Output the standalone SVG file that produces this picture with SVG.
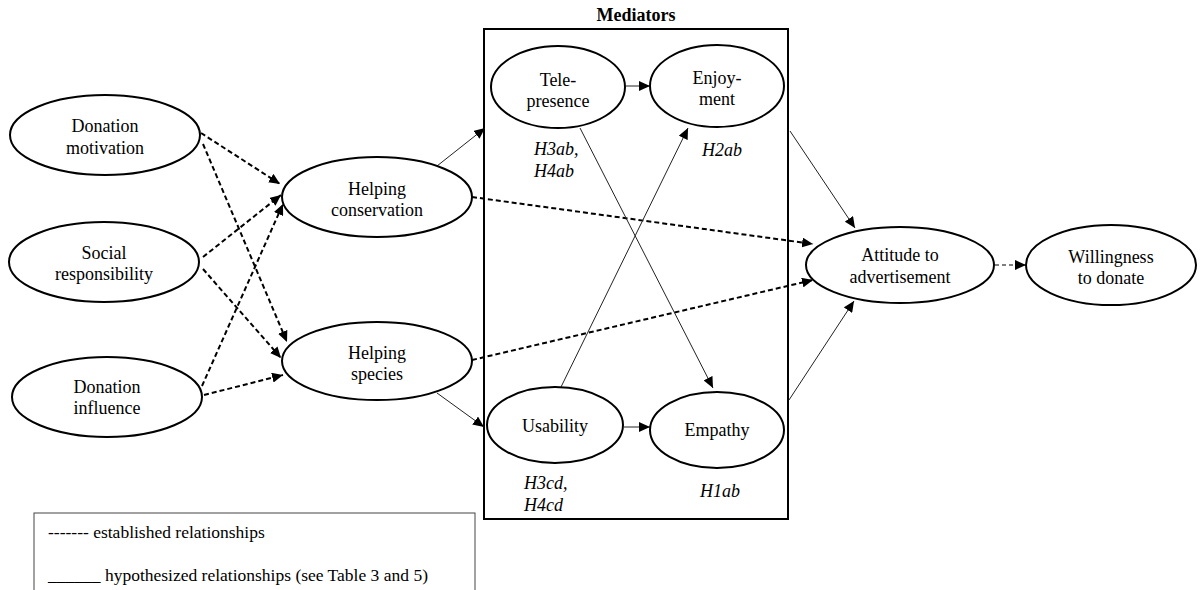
<svg xmlns="http://www.w3.org/2000/svg" width="1203" height="590" viewBox="0 0 1203 590" font-family="'Liberation Serif', 'DejaVu Serif', serif">
<style>
  text { font-family: "Liberation Serif", "DejaVu Serif", serif; font-size: 18px; fill: #000; }
  .lbl { text-anchor: middle; }
  .hyp { font-style: italic; }
  .title { font-weight: bold; text-anchor: middle; }
  .legend { font-size: 17.5px; }
  ellipse { fill: #fff; stroke: #000; stroke-width: 2; }
  .dash { fill: none; stroke: #000; stroke-width: 2; stroke-dasharray: 5 3; }
  .dashthin { fill: none; stroke: #000; stroke-width: 1.2; stroke-dasharray: 4 3; }
  .solid { fill: none; stroke: #222; stroke-width: 1; }
</style>
<defs>
  <marker id="arr" markerUnits="userSpaceOnUse" markerWidth="12" markerHeight="10" refX="11" refY="5" orient="auto">
    <path d="M0,0 L11,5 L0,10 z" fill="#000"/>
  </marker>
</defs>

<rect x="0" y="0" width="1203" height="590" fill="#fff"/>

<g id="mediators-box">
  <rect x="484" y="29" width="304" height="490" fill="none" stroke="#000" stroke-width="2"/>
  <text class="title" x="636" y="21">Mediators</text>
</g>

<g id="connectors">
  <line class="dash" x1="201" y1="133" x2="280" y2="184" marker-end="url(#arr)"/>
  <line class="dash" x1="203" y1="144" x2="287" y2="342" marker-end="url(#arr)"/>
  <line class="dash" x1="203" y1="257" x2="281" y2="195" marker-end="url(#arr)"/>
  <line class="dash" x1="203" y1="269" x2="281" y2="358" marker-end="url(#arr)"/>
  <line class="dash" x1="202" y1="386" x2="283" y2="204" marker-end="url(#arr)"/>
  <line class="dash" x1="204" y1="395" x2="283" y2="375" marker-end="url(#arr)"/>
  <line class="dash" x1="472" y1="197" x2="813" y2="244" marker-end="url(#arr)"/>
  <line class="dash" x1="472" y1="360" x2="813" y2="280" marker-end="url(#arr)"/>
  <line class="dashthin" x1="995" y1="265" x2="1026" y2="265" marker-end="url(#arr)"/>

  <line class="solid" x1="437" y1="166" x2="485" y2="128" marker-end="url(#arr)"/>
  <line class="solid" x1="437" y1="393" x2="484" y2="427" marker-end="url(#arr)"/>
  <line class="solid" x1="626" y1="86" x2="650" y2="86" marker-end="url(#arr)"/>
  <line class="solid" x1="624" y1="427" x2="650" y2="427" marker-end="url(#arr)"/>
  <line class="solid" x1="580" y1="128" x2="713" y2="388" marker-end="url(#arr)"/>
  <line class="solid" x1="561" y1="387" x2="688" y2="128" marker-end="url(#arr)"/>
  <line class="solid" x1="790" y1="131" x2="855" y2="228" marker-end="url(#arr)"/>
  <line class="solid" x1="789" y1="400" x2="854" y2="301" marker-end="url(#arr)"/>
</g>

<g id="donation-motivation">
  <ellipse cx="105" cy="135" rx="95" ry="40"/>
  <text class="lbl" x="105" y="132">Donation</text>
  <text class="lbl" x="105" y="154">motivation</text>
</g>
<g id="social-responsibility">
  <ellipse cx="104" cy="262" rx="95" ry="40"/>
  <text class="lbl" x="104" y="259">Social</text>
  <text class="lbl" x="104" y="280">responsibility</text>
</g>
<g id="donation-influence">
  <ellipse cx="107" cy="397" rx="95" ry="40"/>
  <text class="lbl" x="107" y="393">Donation</text>
  <text class="lbl" x="107" y="414">influence</text>
</g>
<g id="helping-conservation">
  <ellipse cx="377" cy="197" rx="95" ry="40"/>
  <text class="lbl" x="377" y="195">Helping</text>
  <text class="lbl" x="377" y="216">conservation</text>
</g>
<g id="helping-species">
  <ellipse cx="377" cy="361" rx="95" ry="39"/>
  <text class="lbl" x="377" y="359">Helping</text>
  <text class="lbl" x="377" y="380">species</text>
</g>
<g id="tele-presence">
  <ellipse cx="558" cy="87" rx="67" ry="41"/>
  <text class="lbl" x="558" y="86">Tele-</text>
  <text class="lbl" x="558" y="107">presence</text>
</g>
<g id="enjoyment">
  <ellipse cx="717" cy="86" rx="67" ry="41"/>
  <text class="lbl" x="717" y="84">Enjoy-</text>
  <text class="lbl" x="717" y="105">ment</text>
</g>
<g id="usability">
  <ellipse cx="555" cy="425" rx="68" ry="38"/>
  <text class="lbl" x="555" y="432">Usability</text>
</g>
<g id="empathy">
  <ellipse cx="717" cy="430" rx="67" ry="38"/>
  <text class="lbl" x="717" y="436">Empathy</text>
</g>
<g id="attitude">
  <ellipse cx="900" cy="265" rx="94" ry="38"/>
  <text class="lbl" x="900" y="261">Attitude to</text>
  <text class="lbl" x="900" y="283">advertisement</text>
</g>
<g id="willingness">
  <ellipse cx="1111" cy="265" rx="85" ry="40"/>
  <text class="lbl" x="1111" y="263">Willingness</text>
  <text class="lbl" x="1111" y="284">to donate</text>
</g>

<g id="hypothesis-labels">
  <text class="hyp" x="534" y="155">H3ab,</text>
  <text class="hyp" x="534" y="177">H4ab</text>
  <text class="hyp" x="702" y="156">H2ab</text>
  <text class="hyp" x="524" y="489">H3cd,</text>
  <text class="hyp" x="524" y="511">H4cd</text>
  <text class="hyp" x="700" y="497">H1ab</text>
</g>

<g id="legend">
  <rect x="34" y="513" width="441" height="90" fill="none" stroke="#444" stroke-width="1"/>
  <text class="legend" x="48" y="538">------- established relationships</text>
  <text class="legend" x="48" y="581">______ hypothesized relationships (see Table 3 and 5)</text>
</g>
</svg>
